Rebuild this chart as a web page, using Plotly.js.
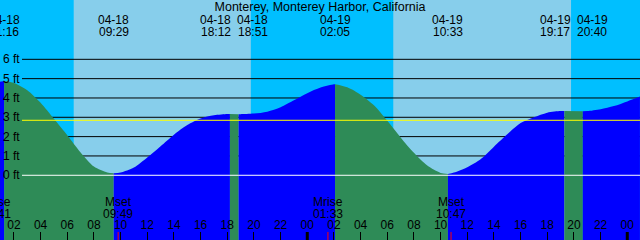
<!DOCTYPE html>
<html><head><meta charset="utf-8">
<script src="https://cdn.plot.ly/plotly-3.0.1.min.js"></script>
<style>html,body{margin:0;padding:0;background:#fff}#chart{width:640px;height:240px}</style>
</head><body><div id="chart"></div>
<script>
const chartTitle = 'Monterey, Monterey Harbor, California';
const tideTimes = [
 '2024-04-18 00:57','2024-04-18 01:16','2024-04-18 02:00','2024-04-18 03:00','2024-04-18 04:00',
 '2024-04-18 05:00','2024-04-18 06:00','2024-04-18 07:00','2024-04-18 08:00','2024-04-18 09:00',
 '2024-04-18 09:29','2024-04-18 10:00','2024-04-18 11:00','2024-04-18 12:00','2024-04-18 13:00',
 '2024-04-18 14:00','2024-04-18 15:00','2024-04-18 16:00','2024-04-18 17:00','2024-04-18 18:00',
 '2024-04-18 18:12','2024-04-18 18:51','2024-04-18 19:00','2024-04-18 20:00','2024-04-18 21:00',
 '2024-04-18 22:00','2024-04-18 23:00','2024-04-19 00:00','2024-04-19 01:00','2024-04-19 02:00',
 '2024-04-19 02:05','2024-04-19 03:00','2024-04-19 04:00','2024-04-19 05:00','2024-04-19 06:00',
 '2024-04-19 07:00','2024-04-19 08:00','2024-04-19 09:00','2024-04-19 10:00','2024-04-19 10:33',
 '2024-04-19 11:00','2024-04-19 12:00','2024-04-19 13:00','2024-04-19 14:00','2024-04-19 15:00',
 '2024-04-19 16:00','2024-04-19 17:00','2024-04-19 18:00','2024-04-19 19:00','2024-04-19 19:17',
 '2024-04-19 20:40','2024-04-19 21:00','2024-04-19 22:00','2024-04-19 23:00','2024-04-20 00:00',
 '2024-04-20 00:57'
];
const tideFeet = [
 4.84,4.88,4.78,4.40,3.75,
 2.92,2.07,1.18,0.45,0.14,
 0.10,0.14,0.40,0.92,1.50,
 2.10,2.60,2.94,3.10,3.165,
 3.17,3.16,3.16,3.19,3.29,
 3.52,3.88,4.25,4.54,4.71,
 4.71,4.55,4.17,3.62,2.82,
 1.96,1.16,0.50,0.12,0.07,
 0.14,0.42,0.83,1.48,2.12,
 2.70,3.00,3.24,3.32,3.33,
 3.31,3.32,3.42,3.58,3.82,
 4.07
];
const eventTimes = ['2024-04-18 01:16','2024-04-18 09:29','2024-04-18 18:12','2024-04-18 18:51',
 '2024-04-19 02:05','2024-04-19 10:33','2024-04-19 19:17','2024-04-19 20:40'];
const eventDates = ['04-18','04-18','04-18','04-18','04-19','04-19','04-19','04-19'];
const eventClock = ['01:16','09:29','18:12','18:51','02:05','10:33','19:17','20:40'];
const sunriseTimes = ['2024-04-18 06:29','2024-04-19 06:27'];
const sunsetTimes = ['2024-04-18 19:46','2024-04-19 19:47'];
const moonTimes = ['2024-04-18 00:41','2024-04-18 09:49','2024-04-19 01:33','2024-04-19 10:47'];
const moonNames = ['Mrise','Mset','Mrise','Mset'];
const moonClock = ['00:41','09:49','01:33','10:47'];
const midnightTimes = ['2024-04-19 00:00','2024-04-20 00:00'];
const gridFeet = [0,1,2,3,4,5,6];
const gridLabels = ['0 ft','1 ft','2 ft','3 ft','4 ft','5 ft','6 ft'];
const mslFeet = 2.845;
const datumFeet = 0;
const xStart = '2024-04-18 00:57:18', xEnd = '2024-04-20 00:57:18';

const C = {day:'#87CEEB', night:'#00BFFF', rise:'#0000FF', fall:'#2E8B57', mark:'#FF0000', msl:'#FFFF00', datum:'#FFFFFF'};
const FONT = 'Liberation Sans, Arial, sans-serif';
const W = 640, H = 240, BOTTOM = -6;
const ms = s => Date.parse(s.replace(' ', 'T') + 'Z');
const t0 = ms(xStart), t1 = ms(xEnd);
const toPx = s => (ms(s) - t0) / (t1 - t0) * W;

// segments between tide extremes: blue while rising, green while falling
const lastT = tideTimes[tideTimes.length-1];
const bounds = [tideTimes[0]].concat(eventTimes.filter(e => e > tideTimes[0] && e < lastT), [lastT]);
const traces = [];
for (let i = 0; i < bounds.length - 1; i++) {
  const a = bounds[i], b = bounds[i+1];
  const xs = [], ys = [];
  tideTimes.forEach((t, k) => { if (t >= a && t <= b) { xs.push(t); ys.push(tideFeet[k]); } });
  const rising = ys[ys.length-1] > ys[0];
  traces.push({x:[a,b], y:[BOTTOM,BOTTOM], mode:'lines', line:{width:0}, hoverinfo:'skip', showlegend:false});
  traces.push({x:xs, y:ys, mode:'lines', line:{width:0, shape:'spline', smoothing:0.8}, fill:'tonexty',
    fillcolor: rising ? C.rise : C.fall, hoverinfo:'skip', showlegend:false});
}

const shapes = [];
sunriseTimes.forEach((s, i) => shapes.push({type:'rect', layer:'below', xref:'x', yref:'paper', x0:s, x1:sunsetTimes[i], y0:0, y1:1, fillcolor:C.day, line:{width:0}}));
gridFeet.forEach(v => shapes.push({type:'line', layer:'below', xref:'paper', xsizemode:'pixel', xanchor:0, x0:22, x1:W+10, yref:'y', y0:v, y1:v, line:{color:'#000', width:1}}));
shapes.push({type:'line', layer:'above', xref:'paper', xsizemode:'pixel', xanchor:0, x0:22, x1:W+10, yref:'y', y0:mslFeet, y1:mslFeet, line:{color:C.msl, width:1}});
shapes.push({type:'line', layer:'above', xref:'paper', xsizemode:'pixel', xanchor:0, x0:22, x1:W+10, yref:'y', y0:datumFeet, y1:datumFeet, line:{color:C.datum, width:1}});
midnightTimes.forEach(s => shapes.push({type:'line', layer:'above', xref:'x', x0:s, x1:s, yref:'paper', ysizemode:'pixel', yanchor:0, y0:0, y1:8, line:{color:'#000', width:3}}));
moonTimes.forEach(s => shapes.push({type:'line', layer:'above', xref:'x', x0:s, x1:s, yref:'paper', ysizemode:'pixel', yanchor:0, y0:0, y1:8, line:{color:C.mark, width:1}}));

// spread overlapping tide labels apart
const px = eventTimes.map(toPx);
const lab = px.slice();
const GAP = 37;
for (let i = 0; i < lab.length - 1; i++) {
  const d = lab[i+1] - lab[i];
  if (d < GAP) { lab[i] -= (GAP - d) / 2; lab[i+1] += (GAP - d) / 2; }
}
const annotations = [];
const yp = p => 1 - p / H;
const tfont = {family:FONT, size:12, color:'#000'};
function addLabel(time, lines, ys, shiftPx) {
  const clamped = time < xStart ? xStart : (time > xEnd ? xEnd : time);
  const extra = toPx(time) - toPx(clamped);
  lines.forEach((txt, j) => annotations.push({xref:'x', x:clamped, xshift: extra + shiftPx, yref:'paper', y:yp(ys[j]), yanchor:'middle', xanchor:'center',
    text:txt, showarrow:false, font:tfont}));
}
eventTimes.forEach((t, i) => addLabel(t, [eventDates[i], eventClock[i]], [19.5, 32], lab[i] - px[i]));
moonTimes.forEach((t, i) => addLabel(t, [moonNames[i], moonClock[i]], [201.5, 213.5], 0));
gridFeet.forEach((v, i) => annotations.push({xref:'paper', x:0, xanchor:'left', xshift:1, yref:'y', y:v, yanchor:'middle',
  text:gridLabels[i], showarrow:false, font:tfont}));

const layout = {
  width: W, height: H, margin:{l:0, r:0, t:0, b:0},
  paper_bgcolor: C.night, plot_bgcolor: C.night,
  title: {text: chartTitle, font:{family:FONT, size:12.5, color:'#000'}, x:0.5, xanchor:'center', yref:'container', y: 1 - 7/H, yanchor:'middle'},
  xaxis: {type:'date', range:[xStart, xEnd], tickformat:'%H', dtick: 2*3600*1000, tick0:'2024-04-18 00:00',
    ticks:'inside', ticklen:8, tickwidth:1, tickcolor:'#000', ticklabelposition:'inside', showgrid:false, zeroline:false, showline:false,
    tickfont:tfont, fixedrange:true},
  yaxis: {range:[-3.35, 9.07], showticklabels:false, ticks:'', showgrid:false, zeroline:false, showline:false, fixedrange:true},
  shapes: shapes, annotations: annotations, showlegend:false
};
Plotly.newPlot('chart', traces, layout, {staticPlot:true});
</script></body></html>
